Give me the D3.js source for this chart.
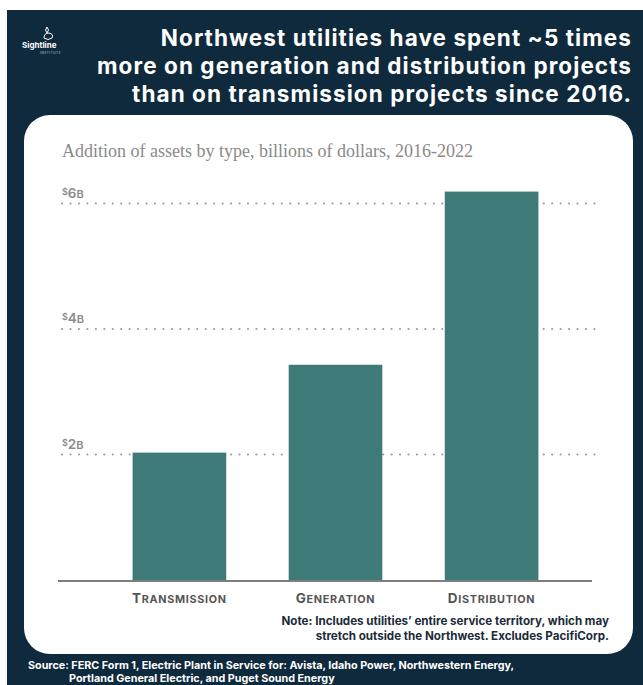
<!DOCTYPE html>
<html>
<head>
<meta charset="utf-8">
<script src="https://cdn.jsdelivr.net/npm/d3@7"></script>
<style>
  html, body { margin: 0; padding: 0; background: #ffffff; }
  svg { display: block; }
</style>
</head>
<body>
<svg id="chart" width="643" height="685"></svg>
<script>
// ---- data ----
const categories = ["Transmission", "Generation", "Distribution"];
const values = [2.03, 3.43, 6.19];           // billions of dollars
const tickValues = [2, 4, 6];
const tickLabels = ["2B", "4B", "6B"];
const titleLines = [
  "Northwest utilities have spent ~5 times",
  "more on generation and distribution projects",
  "than on transmission projects since 2016."
];
const subtitle = "Addition of assets by type, billions of dollars, 2016-2022";
const noteLines = [
  "Note: Includes utilities\u2019 entire service territory, which may",
  "stretch outside the Northwest. Excludes PacifiCorp."
];
const sourceLines = [
  "Source: FERC Form 1, Electric Plant in Service for: Avista, Idaho Power, Northwestern Energy,",
  "Portland General Electric, and Puget Sound Energy"
];

const svg = d3.select("#chart");
const W = 643, H = 685;
const navy = "#0f2a3c";
const teal = "#3e7a78";
const sans = "Inter, 'Open Sans', sans-serif";

function fitSize(sel, target) {
  const fs = parseFloat(sel.attr("font-size"));
  return fs * target / sel.node().getComputedTextLength();
}
function fitSpacing(sel, target) {
  const w = sel.node().getComputedTextLength();
  return Math.max(0, (target - w) / sel.text().length);
}

// background
svg.append("rect").attr("x", 0).attr("y", 0).attr("width", W).attr("height", H).attr("fill", "#ffffff");
svg.append("rect").attr("x", 7).attr("y", 10).attr("width", W - 7).attr("height", H - 10).attr("fill", navy);

// card
svg.append("rect").attr("x", 24).attr("y", 115).attr("width", 609).attr("height", 539)
  .attr("rx", 26).attr("ry", 26).attr("fill", "#ffffff");

// logo
const logo = svg.append("g");
logo.append("path")
  .attr("d", "M47,33 q-3,-3 0,-6 q3,3 0,6 M44,38 q0,-5 5,-5 q5,1 3,5 q-4,3 -8,0 z")
  .attr("fill", "none").attr("stroke", "#ffffff").attr("stroke-width", 1);
logo.append("text").attr("x", 22).attr("y", 48).text("Sightline")
  .attr("font-family", sans).attr("font-weight", 700).attr("font-size", 8)
  .attr("fill", "#ffffff");
logo.append("text").attr("x", 40).attr("y", 54).text("INSTITUTE")
  .attr("font-family", sans).attr("font-size", 3).attr("letter-spacing", 0.6)
  .attr("fill", "#c8d0d6");

// title
const title = svg.append("g").attr("font-family", sans).attr("font-weight", 700)
  .attr("fill", "#ffffff").attr("text-anchor", "end");
const tt = title.selectAll("text").data(titleLines).join("text")
  .attr("x", 632).attr("y", (d, i) => 46 + i * 27.8)
  .attr("font-size", 22.5)
  .text(d => d);
tt.attr("letter-spacing", fitSpacing(d3.select(tt.nodes()[1]), 535));

// subtitle
svg.append("text").attr("x", 62).attr("y", 157)
  .attr("font-family", "'Liberation Serif', 'DejaVu Serif', serif")
  .attr("font-size", 18).attr("fill", "#8a8a8a")
  .text(subtitle);

// scales
const x = d3.scaleBand().domain(categories).range([58, 613]).paddingInner(0.4).paddingOuter(0.478);
const y = d3.scaleLinear().domain([0, 6]).range([580, 203.5]);

// gridlines
const grid = svg.append("g");
grid.selectAll("line").data(tickValues).join("line")
  .attr("x1", 62).attr("x2", 598)
  .attr("y1", d => y(d)).attr("y2", d => y(d))
  .attr("stroke", "#9a9a9a").attr("stroke-width", 2)
  .attr("stroke-dasharray", "0.1 8.35").attr("stroke-linecap", "round");

// tick labels
const tl = svg.append("g").selectAll("text").data(tickValues).join("text")
  .attr("x", 62).attr("y", d => y(d) - 6)
  .attr("font-family", sans).attr("font-weight", 600)
  .attr("fill", "#8c8c8c");
tl.append("tspan").attr("font-size", 9).attr("dy", -3).text("$");
tl.append("tspan").attr("font-size", 13.5).attr("dy", 3).text((d, i) => tickLabels[i][0]);
tl.append("tspan").attr("font-size", 11).text((d, i) => tickLabels[i].slice(1));

// bars
svg.append("g").selectAll("rect").data(values).join("rect")
  .attr("x", (d, i) => x(categories[i]))
  .attr("width", x.bandwidth())
  .attr("y", d => y(d))
  .attr("height", d => y(0) - y(d))
  .attr("fill", teal);

// baseline
svg.append("line").attr("x1", 58).attr("x2", 592).attr("y1", y(0) + 1).attr("y2", y(0) + 1)
  .attr("stroke", "#7d7d7d").attr("stroke-width", 2);

// category labels (small caps)
const cl = svg.append("g").selectAll("text").data(categories).join("text")
  .attr("x", d => x(d) + x.bandwidth() / 2).attr("y", 603)
  .attr("text-anchor", "middle")
  .attr("font-family", sans).attr("font-weight", 700)
  .attr("fill", "#555555").attr("letter-spacing", 0.7);
cl.append("tspan").attr("font-size", 13.5).text(d => d[0].toUpperCase());
cl.append("tspan").attr("font-size", 10.8).text(d => d.slice(1).toUpperCase());

// note
const nt = svg.append("g").selectAll("text").data(noteLines).join("text")
  .attr("x", 609).attr("y", (d, i) => 625 + i * 15)
  .attr("text-anchor", "end")
  .attr("font-family", sans).attr("font-weight", 700).attr("font-size", 11)
  .attr("fill", "#1b2b3a")
  .text(d => d);
nt.attr("font-size", fitSize(d3.select(nt.nodes()[0]), 328));

// source
const st = svg.append("g").selectAll("text").data(sourceLines).join("text")
  .attr("x", (d, i) => i === 0 ? 28 : 69).attr("y", (d, i) => 669 + i * 13)
  .attr("font-family", sans).attr("font-weight", 700).attr("font-size", 10.3)
  .attr("fill", "#ffffff")
  .text(d => d);
st.attr("font-size", fitSize(d3.select(st.nodes()[0]), 487));
</script>
</body>
</html>
